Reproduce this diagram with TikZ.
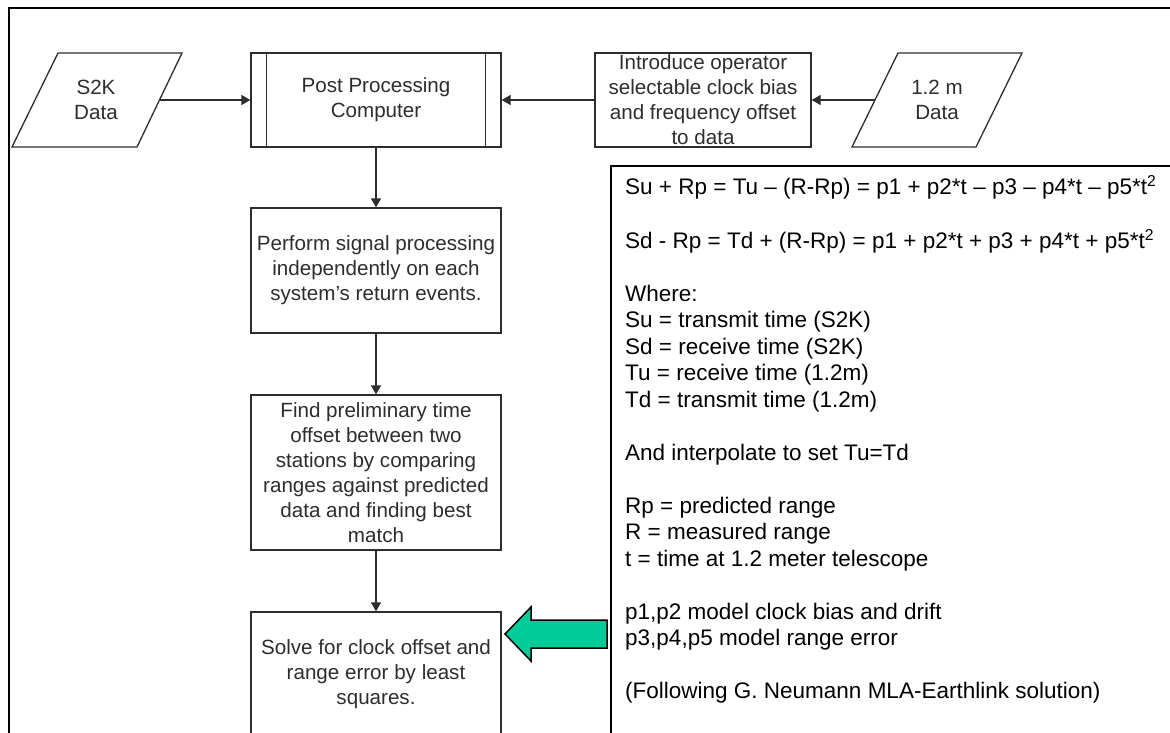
\documentclass[tikz,border=0pt]{standalone}
\usepackage{fontspec}
\setmainfont{Liberation Sans}
\usetikzlibrary{arrows.meta}
\definecolor{ink}{RGB}{45,45,45}
\definecolor{arrowgreen}{RGB}{0,204,153}
\begin{document}
\begin{tikzpicture}[x=1pt,y=-1pt,
  box/.style={draw=ink, line width=1.3pt, minimum width=250pt, inner sep=0pt, align=center, text=ink, font=\fontsize{20.6}{25}\selectfont},
  lbl/.style={inner sep=0pt, align=center, text=ink, font=\fontsize{20.6}{25}\selectfont},
  shapeline/.style={draw=ink, line width=1.3pt},
  arr/.style={draw=ink, line width=1.3pt, -{Triangle[length=9pt,width=10pt]}},
  eqtext/.style={anchor=base west, inner sep=0pt, font=\fontsize{22.5}{26}\selectfont, text=black}]
\useasboundingbox (0,0) rectangle (1170,733);
\begin{scope}
\clip (0,0) rectangle (1170,733);
% outer frame
\draw[black, line width=2pt] (1180,8) -- (9,8) -- (9,745);
% input parallelograms
\draw[shapeline] (58,53) -- (182,53) -- (137,147) -- (12,147) -- cycle;
\node[lbl] (s2k) at (96,100) {S2K\\Data};
\coordinate (s2kout) at (159.5,100);
\draw[shapeline] (898,53) -- (1022,53) -- (976,147) -- (852,147) -- cycle;
\node[lbl] (m12) at (937,100) {1.2 m\\Data};
\coordinate (m12out) at (875,100);
% process boxes
\node[box, minimum height=94pt] (post) at (376,100) {Post Processing\\Computer};
\draw[shapeline] ([xshift=16pt]post.north west) -- ([xshift=16pt]post.south west);
\draw[shapeline] ([xshift=-16pt]post.north east) -- ([xshift=-16pt]post.south east);
\node[box, minimum width=216pt, minimum height=94pt] (intro) at (703,100) {Introduce operator\\selectable clock bias\\and frequency offset\\to data};
\node[box, minimum height=125pt] (perform) at (376,270.5) {Perform signal processing\\independently on each\\system's return events.};
\node[box, minimum height=155pt] (find) at (376,472.5) {Find preliminary time\\offset between two\\stations by comparing\\ranges against predicted\\data and finding best\\match};
\node[box, minimum height=124pt] (solve) at (376,674) {Solve for clock offset and\\range error by least\\squares.};
% connectors
\draw[arr] (s2kout) -- (post.west);
\draw[arr] (intro.west) -- (post.east);
\draw[arr] (m12out) -- (intro.east);
\draw[arr] (post.south) -- (perform.north);
\draw[arr] (perform.south) -- (find.north);
\draw[arr] (find.south) -- (solve.north);
% equation box
\draw[black, line width=2pt] (1185,166) -- (611,166) -- (611,745);
\node[eqtext] (e1) at (625,194) {Su + Rp = Tu -- (R-Rp) = p1 + p2*t -- p3 -- p4*t -- p5*t\textsuperscript{2}};
\node[eqtext] (e2) at (625,248) {Sd - Rp = Td + (R-Rp) = p1 + p2*t + p3 + p4*t + p5*t\textsuperscript{2}};
\node[eqtext] (e3) at (625,301) {Where:};
\node[eqtext] (e4) at (625,327.5) {Su = transmit time (S2K)};
\node[eqtext] (e5) at (625,354) {Sd = receive time (S2K)};
\node[eqtext] (e6) at (625,380.5) {Tu = receive time (1.2m)};
\node[eqtext] (e7) at (625,407) {Td = transmit time (1.2m)};
\node[eqtext] (e8) at (625,460) {And interpolate to set Tu=Td};
\node[eqtext] (e9) at (625,513) {Rp = predicted range};
\node[eqtext] (e10) at (625,539.5) {R = measured range};
\node[eqtext] (e11) at (625,566) {t = time at 1.2 meter telescope};
\node[eqtext] (e12) at (625,619) {p1,p2 model clock bias and drift};
\node[eqtext] (e13) at (625,645.5) {p3,p4,p5 model range error};
\node[eqtext] (e14) at (625,698.5) {(Following G. Neumann MLA-Earthlink solution)};
% green block arrow
\draw[black, line width=1.5pt, fill=arrowgreen, line join=miter]
  (505,634) -- (531,607) -- (531,620) -- (607,620) -- (607,648) -- (531,648) -- (531,661) -- cycle;
\end{scope}
\end{tikzpicture}
\end{document}
